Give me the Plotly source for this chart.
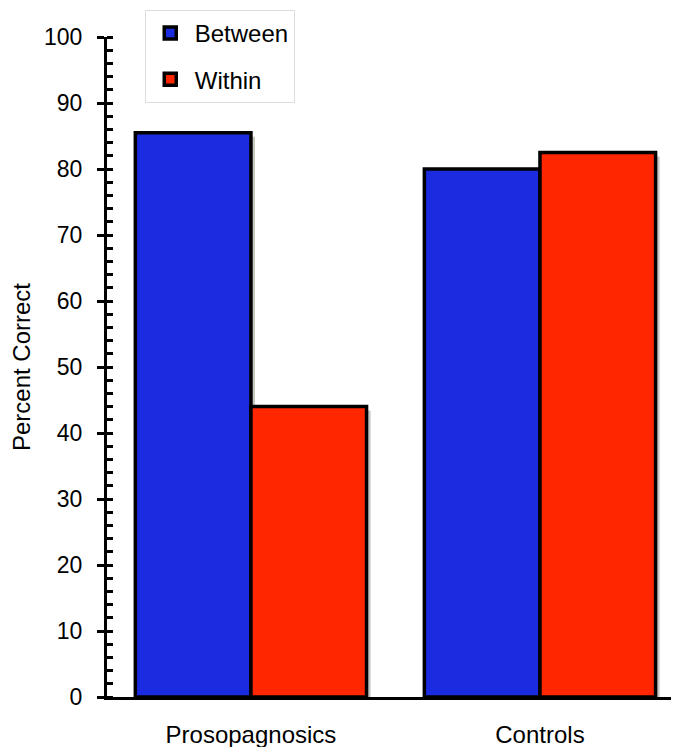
import plotly.graph_objects as go

categories = ["Prosopagnosics", "Controls"]
between = [85.5, 80.0]
within = [44.0, 82.5]
series_names = ["Between", "Within"]
y_ticks = [0, 10, 20, 30, 40, 50, 60, 70, 80, 90, 100]

BLUE = "#1a2be0"
RED = "#ff2600"
FONT = "Liberation Sans, Arial, Helvetica, sans-serif"

bar_w = 0.4
sdx = 0.014   # shadow shift in category units (~4px)
sdy = 0.6     # shadow shift in value units (~4px)

fig = go.Figure()

# shadows (drawn first, underneath)
for vals, off in [(between, -bar_w), (within, 0.0)]:
    fig.add_trace(go.Bar(
        x=categories, y=vals, base=-sdy, offset=off + sdx, width=bar_w,
        marker=dict(color="rgba(0,0,0,0.22)", line=dict(width=0)),
        showlegend=False, hoverinfo="skip",
    ))

for name, vals, col, off, grp in [(series_names[0], between, BLUE, -bar_w, "a"),
                                  (series_names[1], within, RED, 0.0, "b")]:
    fig.add_trace(go.Bar(
        x=categories, y=vals, name=name, offset=off, width=bar_w,
        marker=dict(color=col, line=dict(color="black", width=3.5)),
        legendgroup=grp,
    ))

# page body adds an 8px margin: shrink figure so plot lands where the reference has it
fig.update_layout(
    width=671, height=739,
    margin=dict(l=99, r=0, t=29, b=50),
    paper_bgcolor="white", plot_bgcolor="white",
    barmode="overlay",
    font=dict(family=FONT, size=24, color="black"),
    showlegend=True,
    legend=dict(
        x=0.066, y=1.041, xanchor="left", yanchor="top",
        bordercolor="#dddddd", borderwidth=1, bgcolor="white",
        font=dict(size=24, family=FONT), tracegroupgap=12,
        traceorder="grouped", itemwidth=39,
    ),
    xaxis=dict(
        range=[-0.498, 1.481], showline=True, linecolor="black", linewidth=3,
        ticks="", showgrid=False, zeroline=False,
        tickfont=dict(size=24, family=FONT), ticklabelstandoff=14,
    ),
    yaxis=dict(
        range=[0, 100], tickvals=y_ticks, showline=True, linecolor="black",
        linewidth=3, ticks="outside", ticklen=7, tickwidth=3, tickcolor="black",
        showgrid=False, zeroline=False,
        tickfont=dict(size=23, family=FONT), ticklabelstandoff=10,
        minor=dict(dtick=2, ticks="inside", ticklen=6, tickwidth=2.5,
                   tickcolor="black", showgrid=False),
        title=dict(text="Percent Correct", font=dict(size=24, family=FONT),
                   standoff=12),
    ),
    yaxis2=dict(
        range=[0, 100], overlaying="y", side="left", tickvals=y_ticks,
        ticks="inside", ticklen=6, tickwidth=3, tickcolor="black",
        showticklabels=False, showline=False, showgrid=False, zeroline=False,
    ),
)

fig.write_html("out.html")
